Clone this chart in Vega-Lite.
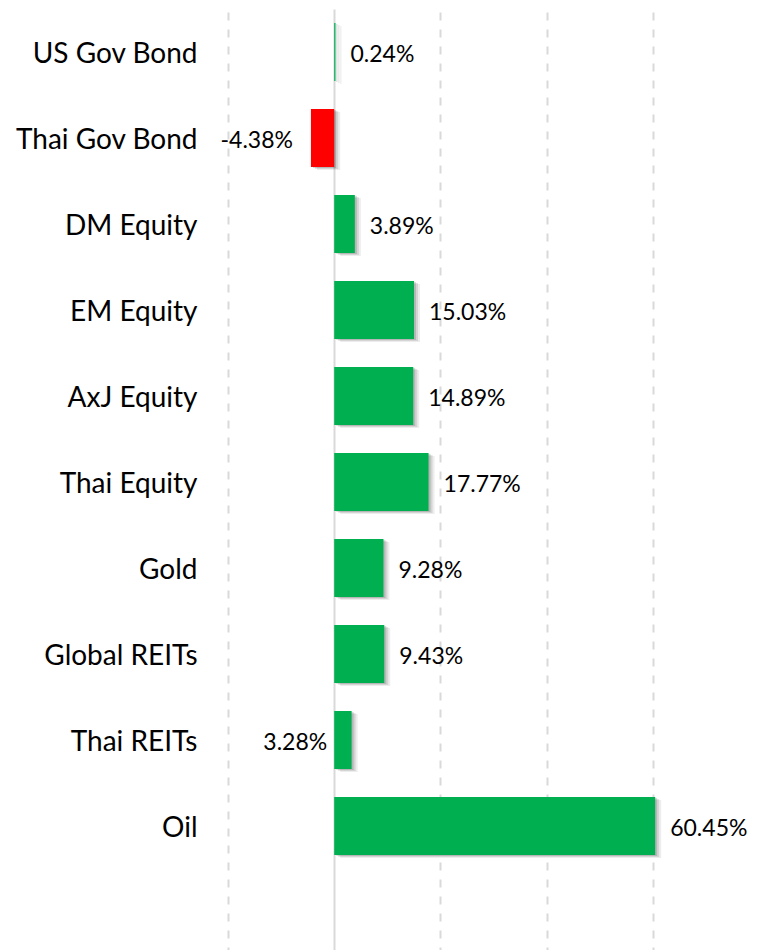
{
  "$schema": "https://vega.github.io/schema/vega-lite/v6.json",
  "autosize": {"type": "none"},
  "padding": {"left": 228, "top": 9, "right": 0, "bottom": 0},
  "width": 531,
  "height": 946,
  "background": "white",
  "config": {"view": {"stroke": null}, "font": "Lato"},
  "data": {
    "values": [
      {"category": "US Gov Bond", "value": 0.24, "label": "0.24%"},
      {"category": "Thai Gov Bond", "value": -4.38, "label": "-4.38%"},
      {"category": "DM Equity", "value": 3.89, "label": "3.89%"},
      {"category": "EM Equity", "value": 15.03, "label": "15.03%"},
      {"category": "AxJ Equity", "value": 14.89, "label": "14.89%"},
      {"category": "Thai Equity", "value": 17.77, "label": "17.77%"},
      {"category": "Gold", "value": 9.28, "label": "9.28%"},
      {"category": "Global REITs", "value": 9.43, "label": "9.43%"},
      {"category": "Thai REITs", "value": 3.28, "label": "3.28%"},
      {"category": "Oil", "value": 60.45, "label": "60.45%"}
    ]
  },
  "encoding": {
    "y": {
      "field": "category",
      "type": "nominal",
      "sort": null,
      "scale": {
        "domain": ["US Gov Bond", "Thai Gov Bond", "DM Equity", "EM Equity", "AxJ Equity", "Thai Equity", "Gold", "Global REITs", "Thai REITs", "Oil", "_pad"],
        "paddingInner": 0.326,
        "paddingOuter": 0.163
      },
      "axis": {
        "title": null,
        "domain": false,
        "ticks": false,
        "labelFont": "Lato",
        "labelFontSize": 28,
        "labelColor": "#000000",
        "labelPadding": 31,
        "labelOffset": 3,
        "labelLimit": 400,
        "labelExpr": "datum.value === '_pad' ? '' : datum.value"
      }
    }
  },
  "layer": [
    {
      "mark": {"type": "bar", "color": "#000000", "opacity": 0.07, "xOffset": 6, "yOffset": 3},
      "encoding": {
        "x": {
          "field": "value",
          "type": "quantitative",
          "scale": {"domain": [-20, 80], "nice": false, "zero": false},
          "axis": {
            "title": null,
            "labels": false,
            "ticks": false,
            "domain": false,
            "grid": true,
            "values": [-20, 0, 20, 40, 60],
            "gridColor": "#d9d9d9",
            "gridWidth": 2,
            "gridDash": {"condition": {"test": "datum.value === 0", "value": []}, "value": [8, 9]}
          }
        }
      }
    },
    {
      "mark": {"type": "bar", "color": "#000000", "opacity": 0.1, "xOffset": 4, "yOffset": 2},
      "encoding": {"x": {"field": "value", "type": "quantitative"}}
    },
    {
      "mark": {"type": "bar", "color": "#000000", "opacity": 0.14, "xOffset": 2, "yOffset": 1},
      "encoding": {"x": {"field": "value", "type": "quantitative"}}
    },
    {
      "mark": {"type": "bar"},
      "encoding": {
        "x": {"field": "value", "type": "quantitative"},
        "color": {"condition": {"test": "datum.value < 0", "value": "#FF0000"}, "value": "#00B050"}
      }
    },
    {
      "transform": [{"filter": "datum.value >= 0 && datum.category !== 'Thai REITs'"}],
      "mark": {"type": "text", "align": "left", "baseline": "middle", "dx": 15, "dy": 3, "fontSize": 23, "font": "Lato", "color": "#000000"},
      "encoding": {
        "x": {"field": "value", "type": "quantitative"},
        "text": {"field": "label"}
      }
    },
    {
      "transform": [{"filter": "datum.value < 0"}],
      "mark": {"type": "text", "align": "right", "baseline": "middle", "dx": -18, "dy": 3, "fontSize": 23, "font": "Lato", "color": "#000000"},
      "encoding": {
        "x": {"field": "value", "type": "quantitative"},
        "text": {"field": "label"}
      }
    },
    {
      "transform": [{"filter": "datum.category === 'Thai REITs'"}],
      "mark": {"type": "text", "align": "right", "baseline": "middle", "dx": -7, "dy": 3, "fontSize": 23, "font": "Lato", "color": "#000000"},
      "encoding": {
        "x": {"datum": 0, "type": "quantitative"},
        "text": {"field": "label"}
      }
    }
  ]
}
